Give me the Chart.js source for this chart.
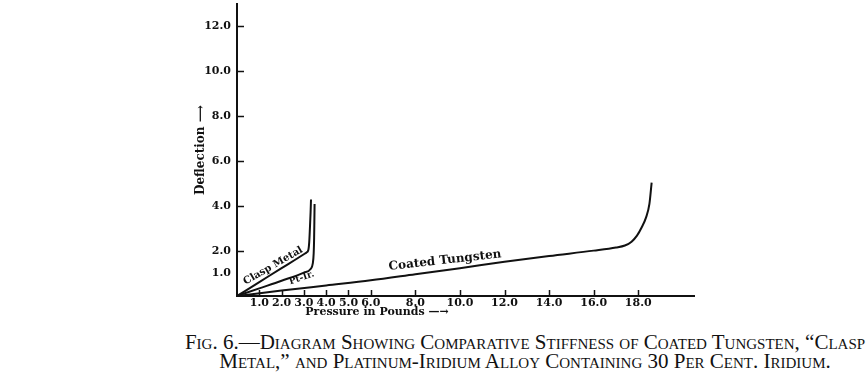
<!DOCTYPE html>
<html>
<head>
<meta charset="utf-8">
<script src="https://cdn.jsdelivr.net/npm/chart.js@4/dist/chart.umd.min.js"></script>
<style>
  body { margin: 0; background: #fff; }
  #wrap { position: relative; width: 867px; height: 382px; overflow: hidden; }
  #grafico { position: absolute; left: 0; top: 0; }
  #tituloX { position: absolute; left: 267px; top: 306px; width: 220px; text-align: center;
    font: bold 11px "DejaVu Serif"; color: #111; line-height: 12px; }
  #leyenda { position: absolute; left: 172px; top: 333px; width: 706px; text-align: center;
    font-family: "Liberation Serif"; font-size: 21px; font-variant: small-caps; line-height: 19px;
    color: #111; white-space: nowrap; }
</style>
</head>
<body>
<div id="wrap">
  <canvas id="grafico" width="867" height="326"></canvas>
  <div id="tituloX">Pressure in Pounds —→</div>
  <div id="leyenda">Fig. 6.—Diagram Showing Comparative Stiffness of Coated Tungsten, “Clasp<br>Metal,” and Platinum-Iridium Alloy Containing 30 Per Cent. Iridium.</div>
</div>
<script>
// ticks
const xTicks = [1, 2, 3, 4, 5, 6, 8, 10, 12, 14, 16, 18];
const yTicks = [1, 2, 4, 6, 8, 10, 12];

const seriesNames = ['Clasp Metal', 'Pt-Ir.', 'Coated Tungsten'];

// curvas (presion en libras, deflexion)
const claspX = [0, 1, 2, 3, 3.12, 3.2, 3.24, 3.27, 3.3, 3.32];
const claspY = [0, 0.62, 1.24, 1.86, 1.94, 2.05, 2.4, 3.0, 3.7, 4.3];

const ptirX = [0, 1, 2, 3, 3.3, 3.4, 3.44, 3.46, 3.47, 3.48];
const ptirY = [0, 0.34, 0.68, 1.04, 1.2, 1.45, 1.9, 2.6, 3.3, 4.1];

const tungX = [0, 2, 4, 6, 8, 10, 12, 14, 16, 17.0, 17.4, 17.7, 17.95, 18.15, 18.35, 18.5, 18.6];
const tungY = [0, 0.24, 0.47, 0.7, 0.97, 1.24, 1.52, 1.78, 2.02, 2.16, 2.25, 2.42, 2.7, 3.05, 3.5, 4.1, 5.05];

function puntos(xs, ys) {
    return xs.map((x, i) => ({ x: x, y: ys[i] }));
}

function serie(nombre, xs, ys) {
    return {
        label: nombre,
        data: puntos(xs, ys),
        borderColor: '#111',
        borderWidth: 2,
        pointRadius: 0,
        fill: false,
        cubicInterpolationMode: 'monotone'
    };
}

// marcas de escala hacia adentro, como en el grabado
const marcasInternas = {
    id: 'marcasInternas',
    afterDraw(chart) {
        const { ctx, chartArea, scales } = chart;
        ctx.save();
        ctx.strokeStyle = '#111';
        ctx.lineWidth = 1.5;
        ctx.beginPath();
        scales.x.ticks.forEach(t => {
            const px = Math.round(scales.x.getPixelForValue(t.value)) + 0.5;
            ctx.moveTo(px, chartArea.bottom);
            ctx.lineTo(px, chartArea.bottom - 6);
        });
        scales.y.ticks.forEach(t => {
            if (t.value === 1) return;
            const py = Math.round(scales.y.getPixelForValue(t.value)) + 0.5;
            ctx.moveTo(chartArea.left, py);
            ctx.lineTo(chartArea.left + 7, py);
        });
        ctx.stroke();
        ctx.restore();
    }
};

// rotulos sobre las curvas
const rotulos = {
    id: 'rotulos',
    afterDatasetsDraw(chart) {
        const { ctx, scales } = chart;
        const items = [
            { text: seriesNames[0], x: 1.62, y: 1.34, ang: -30, size: 10 },
            { text: seriesNames[1], x: 2.9, y: 0.8, ang: -19, size: 9 },
            { text: seriesNames[2], x: 9.33, y: 1.58, ang: -6.5, size: 12 }
        ];
        ctx.save();
        ctx.fillStyle = '#111';
        ctx.textAlign = 'center';
        ctx.textBaseline = 'middle';
        items.forEach(it => {
            ctx.save();
            ctx.translate(scales.x.getPixelForValue(it.x), scales.y.getPixelForValue(it.y));
            ctx.rotate(it.ang * Math.PI / 180);
            ctx.font = 'bold ' + it.size + 'px "DejaVu Serif"';
            ctx.fillText(it.text, 0, 0);
            ctx.restore();
        });
        ctx.restore();
    }
};

const fuenteEje = { family: 'DejaVu Serif', weight: 'bold', size: 11 };

new Chart(document.getElementById('grafico'), {
    type: 'line',
    data: {
        datasets: [
            serie(seriesNames[0], claspX, claspY),
            serie(seriesNames[1], ptirX, ptirY),
            serie(seriesNames[2], tungX, tungY)
        ]
    },
    options: {
        responsive: false,
        animation: false,
        layout: { padding: { left: 190, right: 173, top: 4, bottom: 0 } },
        plugins: { legend: { display: false }, tooltip: { enabled: false } },
        scales: {
            x: {
                type: 'linear',
                min: 0,
                max: 20.5,
                afterBuildTicks: s => { s.ticks = xTicks.map(v => ({ value: v })); },
                afterFit: s => { s.height = 30; s.paddingLeft = 0; s.paddingRight = 0; },
                grid: { drawOnChartArea: false, drawTicks: false },
                border: { display: true, color: '#111', width: 2 },
                ticks: { color: '#111', font: fuenteEje, padding: 1, maxRotation: 0, autoSkip: false,
                    callback: v => v.toFixed(1) }
            },
            y: {
                type: 'linear',
                min: 0,
                max: 13,
                afterBuildTicks: s => { s.ticks = yTicks.map(v => ({ value: v })); },
                afterFit: s => { s.width = 47; s.paddingTop = 0; s.paddingBottom = 0; },
                grid: { drawOnChartArea: false, drawTicks: false },
                border: { display: true, color: '#111', width: 2 },
                ticks: { color: '#111', font: fuenteEje, padding: 6, autoSkip: false,
                    callback: v => v.toFixed(1) },
                title: {
                    display: true,
                    text: 'Deflection ⟶',
                    color: '#111',
                    font: { family: 'DejaVu Serif', weight: 'bold', size: 12 },
                    padding: { top: 4, bottom: 0 }
                }
            }
        }
    },
    plugins: [marcasInternas, rotulos]
});
</script>
</body>
</html>
